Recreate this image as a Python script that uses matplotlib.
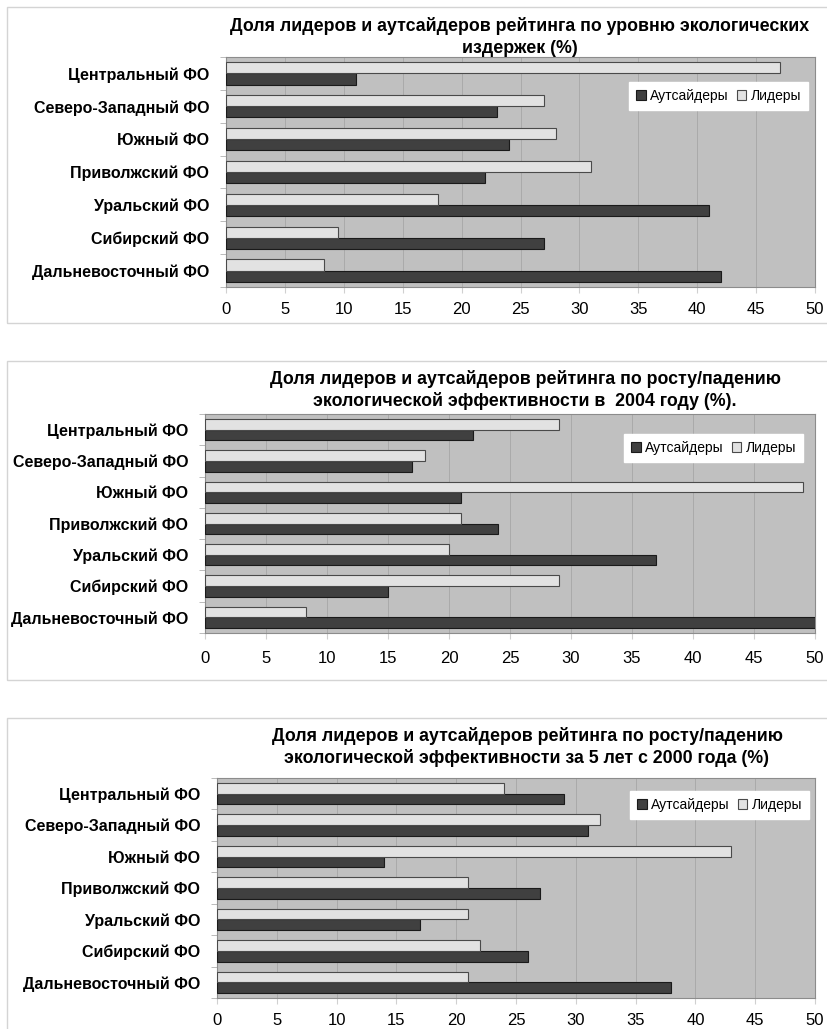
import matplotlib
matplotlib.use("Agg")
import matplotlib.pyplot as plt
from matplotlib.patches import Rectangle
import numpy as np

plt.rcParams['font.family'] = ['Liberation Sans', 'DejaVu Sans']

regions = ['Центральный ФО', 'Северо-Западный ФО', 'Южный ФО', 'Приволжский ФО',
           'Уральский ФО', 'Сибирский ФО', 'Дальневосточный ФО']

# chart 1: уровень экологических издержек
leaders_costs = [47, 27, 28, 31, 18, 9.5, 8.3]
outsiders_costs = [11, 23, 24, 22, 41, 27, 42]

# chart 2: рост/падение в 2004 году
leaders_2004 = [29, 18, 49, 21, 20, 29, 8.3]
outsiders_2004 = [22, 17, 21, 24, 37, 15, 50]

# chart 3: за 5 лет с 2000 года
leaders_5y = [24, 32, 43, 21, 21, 22, 21]
outsiders_5y = [29, 31, 14, 27, 17, 26, 38]

titles = [
    'Доля лидеров и аутсайдеров рейтинга по уровню экологических\nиздержек (%)',
    'Доля лидеров и аутсайдеров рейтинга по росту/падению\nэкологической эффективности в  2004 году (%).',
    'Доля лидеров и аутсайдеров рейтинга по росту/падению\nэкологической эффективности за 5 лет с 2000 года (%)',
]
xticks = [0, 5, 10, 15, 20, 25, 30, 35, 40, 45, 50]

W, H = 827, 1029
fig = plt.figure(figsize=(W / 100, H / 100), dpi=100)


def px_axes(left, top, right, bottom):
    return fig.add_axes([left / W, 1 - bottom / H, (right - left) / W, (bottom - top) / H])


# panel frames (px): left, top, bottom
frames = [(7, 7, 323), (7, 361, 680), (7, 718, 1040)]
for l, t, b in frames:
    fig.patches.append(Rectangle((l / W, 1 - b / H), (W + 20 - l) / W, (b - t) / H,
                                 transform=fig.transFigure, fill=False,
                                 edgecolor='#d4d4d4', linewidth=1.0))

# plot areas (px) and title / legend positions
boxes = [(226, 57, 815, 287), (205, 414, 815, 633), (217, 778, 815, 998)]
title_pos = [(520, 37), (525, 390), (527, 747)]
legend_pos = [(808, 82), (803, 434), (809, 791)]
xpads = [7, 9, 7]
series = [(leaders_costs, outsiders_costs),
          (leaders_2004, outsiders_2004),
          (leaders_5y, outsiders_5y)]

y = np.arange(len(regions))
h = 0.34
for i, (box, (lead, outs)) in enumerate(zip(boxes, series)):
    ax = px_axes(*box)
    ax.set_facecolor('#c0c0c0')
    ax.barh(y + h / 2, outs, height=h, color='#404040', edgecolor='#1a1a1a',
            linewidth=0.8, label='Аутсайдеры', zorder=3)
    ax.barh(y - h / 2, lead, height=h, color='#e2e2e2', edgecolor='#4a4a4a',
            linewidth=0.8, label='Лидеры', zorder=3)
    ax.set_xlim(0, 50)
    ax.set_ylim(len(regions) - 0.5, -0.5)
    ax.set_xticks(xticks)
    ax.set_xticklabels([str(v) for v in xticks], fontsize=12)
    ax.set_yticks(y)
    ax.set_yticklabels(regions, fontsize=11.5, fontweight='bold')
    ax.set_yticks(np.arange(len(regions) + 1) - 0.5, minor=True)
    ax.tick_params(axis='y', which='major', length=0, pad=12)
    ax.tick_params(axis='y', which='minor', length=4, color='#b0b0b0')
    ax.tick_params(axis='x', length=4, color='#d0d0d0', pad=xpads[i])
    ax.grid(axis='x', color='#aaaaaa', linewidth=0.7, zorder=0)
    ax.set_axisbelow(True)
    for s in ax.spines.values():
        s.set_color('#8c8c8c')
        s.set_linewidth(0.8)

    tx, ty = title_pos[i]
    fig.text(tx / W, 1 - ty / H, titles[i], ha='center', va='center',
             fontsize=12.8, fontweight='bold', linespacing=1.35)

    lx, ly = legend_pos[i]
    leg = ax.legend(loc='upper right', bbox_to_anchor=(lx / W, 1 - ly / H),
                    bbox_transform=fig.transFigure, ncol=2, fontsize=10,
                    frameon=True, fancybox=False, framealpha=1,
                    handlelength=0.7, handleheight=0.7, handletextpad=0.3,
                    columnspacing=0.6, borderpad=0.5, borderaxespad=0)
    leg.get_frame().set_edgecolor('white')
    leg.get_frame().set_facecolor('white')

fig.savefig('out.png', dpi=100)
